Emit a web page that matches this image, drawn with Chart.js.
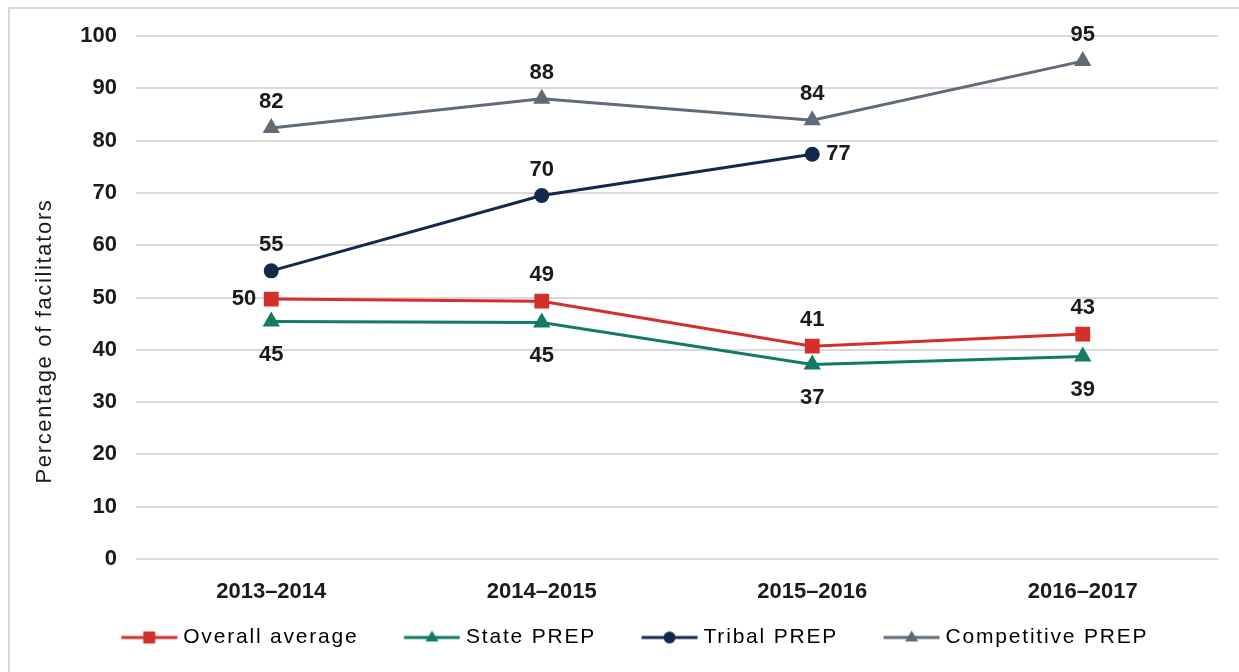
<!DOCTYPE html>
<html>
<head>
<meta charset="utf-8">
<script src="https://cdn.jsdelivr.net/npm/chart.js@4.4.1/dist/chart.umd.min.js"></script>
<style>
  html, body { margin: 0; padding: 0; background: #fff; overflow: hidden; }
  #wrap { position: absolute; left: 0; top: 0; width: 1239px; height: 672px; }
  #frame { position: absolute; left: 8px; top: 7px; width: 1300px; height: 720px; border: 2px solid #d9d9d9; box-sizing: border-box; }
</style>
</head>
<body>
<div id="frame"></div>
<div id="wrap"><canvas id="chart" width="1239" height="672"></canvas></div>
<script>
// chart data
const years = ['2013–2014', '2014–2015', '2015–2016', '2016–2017'];
const overallAverage = [49.7, 49.3, 40.7, 43.0];
const statePrep = [45.4, 45.2, 37.2, 38.7];
const tribalPrep = [55.1, 69.5, 77.4, null];
const competitivePrep = [82.4, 88.0, 83.9, 95.2];
const yTicks = [0, 10, 20, 30, 40, 50, 60, 70, 80, 90, 100];
const yTitle = 'Percentage of facilitators';

// where each value label sits relative to its point
const overallPos = ['left', 'above', 'above', 'above'];
const statePos = ['below', 'below', 'below', 'below'];
const tribalPos = ['above', 'above', 'right', 'right'];
const competitivePos = ['above', 'above', 'above', 'above'];

const RED = '#d3302c', GREEN = '#137a66', NAVY = '#13294b', GRAY = '#5f6b76';
const TEXT = '#1a1a1a';
const FONT = "'Liberation Sans', Arial, sans-serif";

// legend swatch: box is 75 wide, the visible line sits at its right end
const SWATCH_BOX = 75;
function legendIcon(color, shape) {
    const c = document.createElement('canvas');
    c.width = SWATCH_BOX + 10; c.height = 20;
    const g = c.getContext('2d');
    const x0 = 28.5, mid = x0 + 28;
    g.strokeStyle = color; g.fillStyle = color; g.lineWidth = 3;
    g.beginPath(); g.moveTo(x0, 10); g.lineTo(x0 + 56, 10); g.stroke();
    g.beginPath();
    if (shape === 'rect') g.rect(mid - 6, 4, 12, 12);
    else if (shape === 'circle') g.arc(mid, 10, 6, 0, Math.PI * 2);
    else { g.moveTo(mid, 3); g.lineTo(mid + 6.5, 14); g.lineTo(mid - 6.5, 14); g.closePath(); }
    g.fill();
    return c;
}

const valueLabels = {
    id: 'valueLabels',
    afterDatasetsDraw(chart) {
        const ctx = chart.ctx;
        ctx.save();
        ctx.font = 'bold 22px ' + FONT;
        ctx.fillStyle = TEXT;
        chart.data.datasets.forEach((ds, i) => {
            const meta = chart.getDatasetMeta(i);
            meta.data.forEach((pt, j) => {
                const v = ds.data[j];
                if (v === null || v === undefined) return;
                const txt = String(Math.round(v));
                const pos = ds.labelPos[j];
                let x = pt.x, y = pt.y;
                ctx.textAlign = 'center';
                ctx.textBaseline = 'middle';
                if (pos === 'above') y -= 26;
                else if (pos === 'below') y += 33;
                else if (pos === 'left') { ctx.textAlign = 'right'; x -= 15; }
                else if (pos === 'right') { ctx.textAlign = 'left'; x += 14; }
                ctx.fillText(txt, x, y);
            });
        });
        ctx.restore();
    }
};

// the source spaces out legend and axis-title letters a little
function withSpacing(fn, sp) {
    return function () {
        const c = this.ctx;
        c.save();
        c.letterSpacing = sp;
        const r = fn.apply(this, arguments);
        c.restore();
        return r;
    };
}

const spacedText = {
    id: 'spacedText',
    beforeLayout(chart) {
        const lg = chart.legend;
        if (lg && !lg._spaced) {
            lg._spaced = true;
            lg.fit = withSpacing(lg.fit, '1.8px');
            lg.draw = withSpacing(lg.draw, '1.8px');
        }
    },
    afterDraw(chart) {
        const ctx = chart.ctx;
        ctx.save();
        ctx.letterSpacing = '1.65px';
        ctx.font = '22px ' + FONT;
        ctx.fillStyle = TEXT;
        ctx.translate(45, 341);
        ctx.rotate(-Math.PI / 2);
        ctx.textAlign = 'center';
        ctx.textBaseline = 'middle';
        ctx.fillText(yTitle, 0, 0);
        ctx.restore();
    }
};

function makeSeries(label, data, color, style, radius, pos) {
    return {
        label: label,
        data: data,
        borderColor: color,
        backgroundColor: color,
        borderWidth: 3,
        pointStyle: style,
        pointRadius: radius,
        pointHoverRadius: radius,
        pointBorderWidth: 0,
        tension: 0,
        spanGaps: false,
        labelPos: pos
    };
}

const datasets = [
    makeSeries('Overall average', overallAverage, RED, 'rect', 10.5, overallPos),
    makeSeries('State PREP', statePrep, GREEN, 'triangle', 10, statePos),
    makeSeries('Tribal PREP', tribalPrep, NAVY, 'circle', 7.5, tribalPos),
    makeSeries('Competitive PREP', competitivePrep, GRAY, 'triangle', 10, competitivePos)
];
const icons = [legendIcon(RED, 'rect'), legendIcon(GREEN, 'tri'), legendIcon(NAVY, 'circle'), legendIcon(GRAY, 'tri')];

new Chart(document.getElementById('chart'), {
    type: 'line',
    data: { labels: years, datasets: datasets },
    options: {
        responsive: false,
        animation: false,
        devicePixelRatio: 1,
        layout: { padding: { left: 28, right: 21, top: 36, bottom: 14 } },
        plugins: {
            tooltip: { enabled: false },
            legend: {
                position: 'bottom',
                labels: {
                    usePointStyle: true,
                    pointStyleWidth: SWATCH_BOX,
                    color: TEXT,
                    font: { family: FONT, size: 21 },
                    padding: 22,
                    generateLabels(chart) {
                        return chart.data.datasets.map((ds, i) => ({
                            text: ds.label,
                            pointStyle: icons[i],
                            fillStyle: ds.borderColor,
                            strokeStyle: ds.borderColor,
                            lineWidth: 0,
                            hidden: false,
                            datasetIndex: i
                        }));
                    }
                }
            }
        },
        scales: {
            x: {
                offset: true,
                grid: { display: false, drawTicks: false },
                border: { display: false },
                ticks: { color: TEXT, font: { family: FONT, size: 22, weight: 'bold' }, padding: 20 },
                afterFit(scale) { scale.height = 46; }
            },
            y: {
                min: 0,
                max: 100,
                afterBuildTicks(scale) { scale.ticks = yTicks.map(v => ({ value: v })); },
                grid: { color: '#d9d9d9', lineWidth: 2, drawTicks: false },
                border: { display: false },
                ticks: { color: TEXT, font: { family: FONT, size: 22, weight: 'bold' }, padding: 19 },
                afterFit(scale) { scale.width = 108; }
            }
        }
    },
    plugins: [valueLabels, spacedText]
});
</script>
</body>
</html>
